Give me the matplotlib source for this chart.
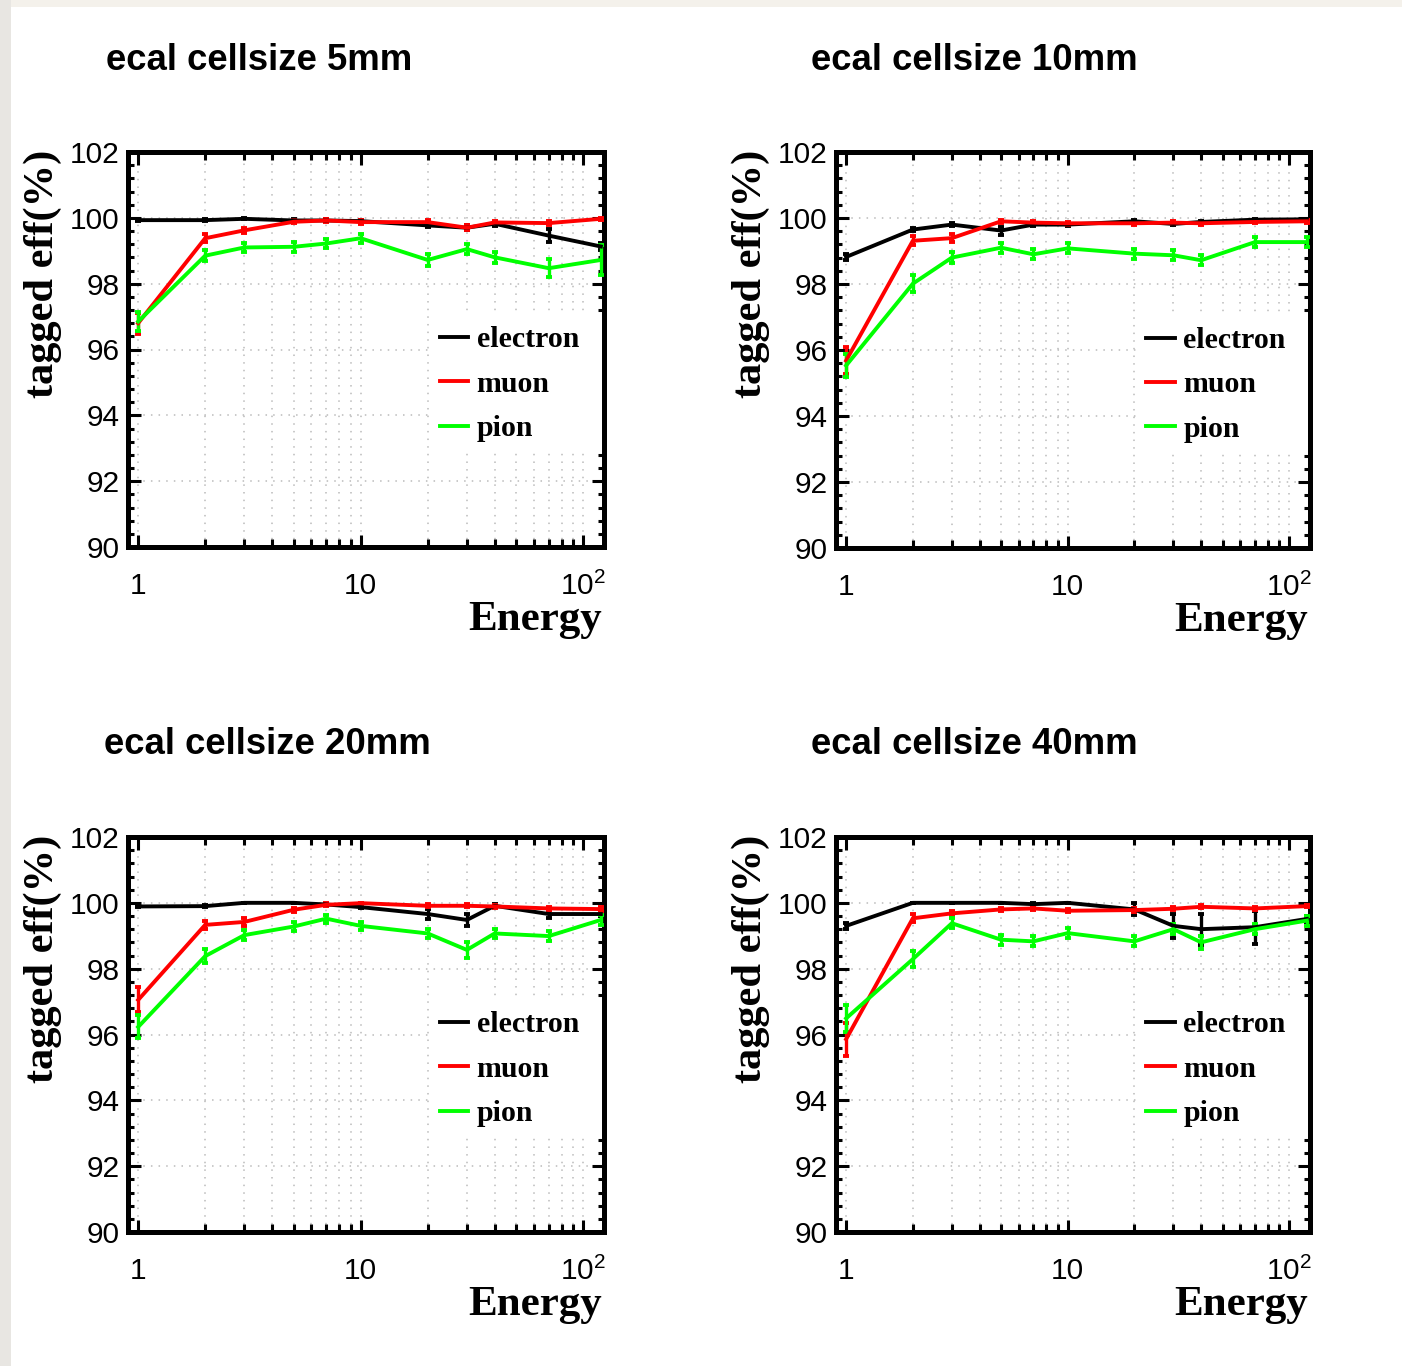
import matplotlib
matplotlib.use("Agg")
import matplotlib.pyplot as plt
from matplotlib.patches import Rectangle
from matplotlib.ticker import FixedLocator, FixedFormatter, LogLocator, MultipleLocator, NullFormatter

energy = [1, 2, 3, 5, 7, 10, 20, 30, 40, 70, 120]

titles = ["ecal cellsize 5mm", "ecal cellsize 10mm", "ecal cellsize 20mm", "ecal cellsize 40mm"]

# ---- 5mm ----
e5 = [99.93, 99.93, 99.97, 99.92, 99.92, 99.90, 99.77, 99.70, 99.82, 99.46, 99.13]
e5_err = [0.03, 0.03, 0.02, 0.03, 0.03, 0.04, 0.06, 0.08, 0.06, 0.20, 0.10]
mu5 = [96.80, 99.38, 99.62, 99.88, 99.92, 99.87, 99.87, 99.70, 99.86, 99.84, 99.97]
mu5_err = [0.32, 0.12, 0.08, 0.05, 0.05, 0.05, 0.05, 0.08, 0.05, 0.05, 0.03]
pi5 = [96.85, 98.85, 99.10, 99.12, 99.22, 99.38, 98.72, 99.05, 98.80, 98.47, 98.72]
pi5_err = [0.30, 0.17, 0.15, 0.15, 0.15, 0.13, 0.17, 0.15, 0.17, 0.27, 0.45]

# ---- 10mm ----
e10 = [98.82, 99.65, 99.80, 99.62, 99.80, 99.80, 99.90, 99.82, 99.88, 99.95, 99.96]
e10_err = [0.10, 0.04, 0.04, 0.12, 0.04, 0.04, 0.03, 0.04, 0.03, 0.02, 0.02]
mu10 = [95.68, 99.31, 99.39, 99.90, 99.86, 99.84, 99.84, 99.86, 99.84, 99.88, 99.90]
mu10_err = [0.40, 0.13, 0.13, 0.04, 0.04, 0.05, 0.05, 0.05, 0.05, 0.04, 0.04]
pi10 = [95.53, 98.01, 98.80, 99.10, 98.90, 99.08, 98.92, 98.87, 98.72, 99.27, 99.27]
pi10_err = [0.35, 0.25, 0.17, 0.15, 0.15, 0.15, 0.15, 0.15, 0.15, 0.15, 0.15]

# ---- 20mm ----
e20 = [99.89, 99.90, 100.00, 100.00, 99.95, 99.87, 99.66, 99.48, 99.91, 99.66, 99.66]
e20_err = [0.03, 0.03, 0.01, 0.01, 0.02, 0.04, 0.15, 0.17, 0.05, 0.13, 0.05]
mu20 = [97.05, 99.33, 99.42, 99.79, 99.94, 99.99, 99.91, 99.91, 99.89, 99.83, 99.81]
mu20_err = [0.38, 0.13, 0.12, 0.06, 0.04, 0.02, 0.04, 0.04, 0.04, 0.05, 0.05]
pi20 = [96.23, 98.38, 99.02, 99.28, 99.52, 99.30, 99.07, 98.57, 99.07, 98.99, 99.48]
pi20_err = [0.35, 0.22, 0.15, 0.13, 0.12, 0.13, 0.15, 0.24, 0.15, 0.16, 0.15]

# ---- 40mm ----
e40 = [99.30, 100.00, 100.00, 100.00, 99.96, 100.00, 99.80, 99.30, 99.20, 99.26, 99.51]
e40_err = [0.10, 0.01, 0.01, 0.01, 0.03, 0.01, 0.18, 0.37, 0.47, 0.50, 0.10]
mu40 = [95.86, 99.53, 99.68, 99.80, 99.83, 99.76, 99.78, 99.82, 99.88, 99.83, 99.90]
mu40_err = [0.50, 0.12, 0.06, 0.05, 0.05, 0.05, 0.05, 0.05, 0.04, 0.05, 0.04]
pi40 = [96.49, 98.29, 99.38, 98.88, 98.83, 99.08, 98.83, 99.20, 98.80, 99.20, 99.46]
pi40_err = [0.40, 0.24, 0.15, 0.15, 0.15, 0.15, 0.15, 0.15, 0.20, 0.15, 0.15]

panels = [
    (e5, e5_err, mu5, mu5_err, pi5, pi5_err),
    (e10, e10_err, mu10, mu10_err, pi10, pi10_err),
    (e20, e20_err, mu20, mu20_err, pi20, pi20_err),
    (e40, e40_err, mu40, mu40_err, pi40, pi40_err),
]
labels = ["electron", "muon", "pion"]
colors = ["#000000", "#ff0000", "#00ff00"]

W, H = 1402, 1366
fig = plt.figure(figsize=(W / 100, H / 100), dpi=100)
fig.patch.set_facecolor("white")

# screenshot border
fig.patches.append(Rectangle((0, 1 - 7 / H), 1, 7 / H, transform=fig.transFigure,
                             facecolor="#f4f1eb", edgecolor="none"))
fig.patches.append(Rectangle((0, 0), 11 / W, 1, transform=fig.transFigure,
                             facecolor="#e8e6e2", edgecolor="none"))

# axes boxes in pixels: (left, top, right, bottom)
boxes = [(128, 152, 604, 547), (836, 152, 1310, 548),
         (128, 837, 604, 1232), (836, 837, 1310, 1232)]
title_pos = [(106, 60), (811, 60), (104, 745), (811, 745)]

sans = ["Liberation Sans", "Arial", "DejaVu Sans"]
serif = ["Liberation Serif", "Times New Roman", "DejaVu Serif"]

for i, (l, t, r, b) in enumerate(boxes):
    ax = fig.add_axes([l / W, 1 - b / H, (r - l) / W, (b - t) / H])
    data = panels[i]
    for k in range(3):
        y = data[2 * k]
        yerr = data[2 * k + 1]
        ax.errorbar(energy, y, yerr=yerr, fmt="none", ecolor=colors[k],
                    elinewidth=2.4, capsize=2.5, capthick=2.8, zorder=3)
        ax.plot(energy, y, color=colors[k], lw=2.8, label=labels[k], zorder=4)

    ax.set_xscale("log")
    ax.set_xlim(0.9, 124)
    ax.set_ylim(90, 102)

    ax.xaxis.set_major_locator(FixedLocator([1, 10, 100]))
    ax.xaxis.set_major_formatter(FixedFormatter(["1", "10", r"$\mathdefault{10^{2}}$"]))
    ax.xaxis.set_minor_locator(LogLocator(base=10, subs=range(2, 10)))
    ax.xaxis.set_minor_formatter(NullFormatter())
    ax.yaxis.set_major_locator(MultipleLocator(2))
    ax.yaxis.set_minor_locator(MultipleLocator(0.4))

    ax.grid(True, which="both", axis="x", color="#bbbbbb", lw=1.1, linestyle=(0, (1, 4)))
    ax.grid(True, which="major", axis="y", color="#bbbbbb", lw=1.1, linestyle=(0, (1, 4)))
    ax.set_axisbelow(True)

    ax.tick_params(which="both", direction="in", top=True, right=True, width=2.2, color="black")
    ax.tick_params(axis="x", which="major", length=9, pad=18)
    ax.tick_params(axis="x", which="minor", length=5.5)
    ax.tick_params(axis="y", which="major", length=9, pad=6)
    ax.tick_params(axis="y", which="minor", length=4.5)
    for lab in ax.get_xticklabels() + ax.get_yticklabels():
        lab.set_fontfamily(sans)
        lab.set_fontsize(21.5)

    for sp in ax.spines.values():
        sp.set_linewidth(3.6)

    # white legend box over the frame
    ax.add_patch(Rectangle((0.634, 0.246), 0.362, 0.341, transform=ax.transAxes,
                           facecolor="white", edgecolor="none", zorder=4.5, clip_on=False))
    ax.legend(loc="center left", bbox_to_anchor=(0.655, 0.412), frameon=False,
              borderpad=0, borderaxespad=0, handlelength=0.95, handletextpad=0.28,
              labelspacing=0.58, prop={"family": serif, "weight": "bold", "size": 21.5})

    ax.text(0.995, -0.185, "Energy", transform=ax.transAxes, ha="right", va="center",
            fontfamily=serif, fontweight="bold", fontsize=31)
    ax.text(-0.18, 1.005, "tagged eff(%)", transform=ax.transAxes, ha="center", va="top",
            rotation=90, fontfamily=serif, fontweight="bold", fontsize=30.5)

    tx, ty = title_pos[i]
    fig.text(tx / W, 1 - ty / H, titles[i], ha="left", va="center",
             fontfamily=sans, fontweight="bold", fontsize=26.3)

fig.savefig("out.png", dpi=100)
